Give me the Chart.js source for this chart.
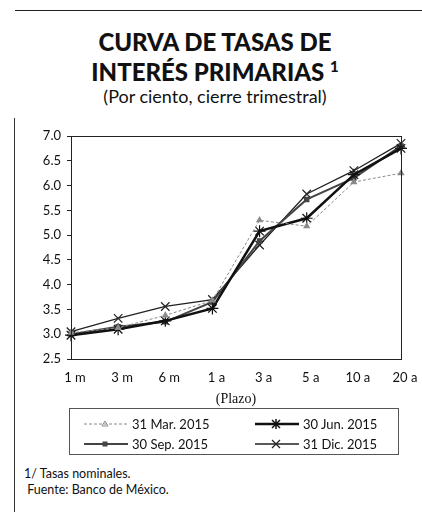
<!DOCTYPE html>
<html>
<head>
<meta charset="utf-8">
<script src="https://cdn.jsdelivr.net/npm/chart.js@4.4.1/dist/chart.umd.min.js"></script>
<style>
  body { margin: 0; background: #fff; font-family: Lato, sans-serif; color: #111; }
  #page { position: relative; width: 422px; height: 512px; overflow: hidden; }
  #rayaTop { position: absolute; left: 15px; top: 10px; width: 407px; border-top: 1.5px solid #222; }
  #rayaIzq { position: absolute; left: 14px; top: 118px; height: 394px; border-left: 1px solid #333; }
  #titol { position: absolute; left: 0; top: 29px; width: 430px; text-align: center; font-weight: 900; font-size: 24px; line-height: 25px; }
  #subtitol { position: absolute; left: 0; top: 85px; width: 430px; text-align: center; font-size: 18px; line-height: 22px; }
  #caixa { position: absolute; left: 0; top: 120px; width: 422px; height: 292px; }
  #llegenda { position: absolute; left: 69px; top: 408px; width: 330px; height: 47px; border: 1px solid #555; box-sizing: border-box; font-size: 13px; }
  .item { position: absolute; display: flex; align-items: center; }
  .item span { margin-left: 4px; }
  #notes { position: absolute; left: 24px; top: 466px; font-size: 12.5px; line-height: 16px; }
</style>
</head>
<body>
<div id="page">
  <div id="rayaTop"></div>
  <div id="rayaIzq"></div>
  <div id="titol">CURVA DE TASAS DE<br>INTERÉS PRIMARIAS <sup style="font-size:15px">1</sup></div>
  <div id="subtitol">(Por ciento, cierre trimestral)</div>
  <div id="caixa"><canvas id="grafic"></canvas></div>
  <div id="llegenda"></div>
  <div id="notes">1/ Tasas nominales.<br>&nbsp;Fuente: Banco de México.</div>
</div>
<script>
// plazos y tasas (por ciento)
const plazos = ['1 m', '3 m', '6 m', '1 a', '3 a', '5 a', '10 a', '20 a'];
const tasasMar15 = [3.03, 3.13, 3.38, 3.68, 5.30, 5.18, 6.07, 6.25];
const tasasJun15 = [2.98, 3.10, 3.27, 3.52, 5.08, 5.34, 6.22, 6.75];
const tasasSep15 = [3.00, 3.15, 3.25, 3.65, 4.88, 5.72, 6.15, 6.80];
const tasasDic15 = [3.05, 3.32, 3.56, 3.70, 4.80, 5.83, 6.30, 6.85];
const nomsSeries = ['31 Mar. 2015', '30 Jun. 2015', '30 Sep. 2015', '31 Dic. 2015'];
const ticksY = [2.5, 3.0, 3.5, 4.0, 4.5, 5.0, 5.5, 6.0, 6.5, 7.0];

const estils = [
  { color: '#8a8a8a', width: 1, dash: [3, 2], punt: 'triangle', radi: 3 },
  { color: '#111', width: 2.5, dash: [], punt: 'star', radi: 6 },
  { color: '#444', width: 2, dash: [], punt: 'rect', radi: 3 },
  { color: '#222', width: 1.3, dash: [], punt: 'crossRot', radi: 6 }
];
const valors = [tasasMar15, tasasJun15, tasasSep15, tasasDic15];

// marco del area de trazado
const marc = {
  id: 'marc',
  afterDraw(chart) {
    const a = chart.chartArea, ctx = chart.ctx;
    ctx.save();
    ctx.strokeStyle = '#222';
    ctx.lineWidth = 1;
    ctx.strokeRect(a.left + 0.5, a.top + 0.5, a.right - a.left, a.bottom - a.top);
    ctx.restore();
  }
};

new Chart(document.getElementById('grafic'), {
  type: 'line',
  data: {
    labels: plazos,
    datasets: valors.map((v, i) => ({
      label: nomsSeries[i],
      data: v,
      borderColor: estils[i].color,
      backgroundColor: estils[i].color,
      borderWidth: estils[i].width,
      borderDash: estils[i].dash,
      pointStyle: estils[i].punt,
      pointRadius: estils[i].radi,
      pointBorderWidth: 1.2,
      tension: 0
    }))
  },
  options: {
    responsive: true,
    maintainAspectRatio: false,
    animation: false,
    layout: { padding: { left: 0, right: 21, top: 16, bottom: 0 } },
    plugins: { legend: { display: false }, tooltip: { enabled: false } },
    scales: {
      x: {
        offset: false,
        grid: { display: false },
        border: { color: '#222' },
        ticks: { color: '#111', font: { family: 'Lato', size: 13 }, padding: 3, labelOffset: 4, maxRotation: 0 },
        title: { display: true, text: '(Plazo)', color: '#111', font: { family: 'Liberation Serif', size: 14 }, padding: { top: 2, bottom: 4 } },
        afterFit(s) { s.height = 53; }
      },
      y: {
        min: 2.5, max: 7.0,
        afterBuildTicks(s) { s.ticks = ticksY.map(v => ({ value: v })); },
        grid: { display: true, drawOnChartArea: false, tickLength: 4, color: '#222' },
        border: { color: '#222' },
        ticks: { color: '#111', font: { family: 'Lato', size: 13 }, padding: 6, callback: v => v.toFixed(1) },
        afterFit(s) { s.width = 71; }
      }
    }
  },
  plugins: [marc]
});

// llegenda html amb mostres de linia
const posicions = [[14, 7], [185, 7], [14, 27], [185, 27]];
const llegenda = document.getElementById('llegenda');
nomsSeries.forEach((nom, i) => {
  const e = estils[i];
  const div = document.createElement('div');
  div.className = 'item';
  div.style.left = posicions[i][0] + 'px';
  div.style.top = posicions[i][1] + 'px';
  let marca = '';
  if (e.punt === 'triangle') marca = '<path d="M21 4 L24 9 L18 9 Z" fill="none" stroke="' + e.color + '"/>';
  if (e.punt === 'star') marca = '<path d="M17 3 L25 11 M25 3 L17 11 M21 2 L21 12" stroke="' + e.color + '" stroke-width="1.5"/>';
  if (e.punt === 'rect') marca = '<rect x="18.5" y="4.5" width="5" height="5" fill="' + e.color + '"/>';
  if (e.punt === 'crossRot') marca = '<path d="M17 3 L25 11 M25 3 L17 11" stroke="' + e.color + '" stroke-width="1.2"/>';
  div.innerHTML = '<svg width="44" height="14"><line x1="0" y1="7" x2="44" y2="7" stroke="' + e.color +
    '" stroke-width="' + e.width + '" stroke-dasharray="' + e.dash.join(',') + '"/>' + marca + '</svg><span>' + nom + '</span>';
  llegenda.appendChild(div);
});
</script>
</body>
</html>
